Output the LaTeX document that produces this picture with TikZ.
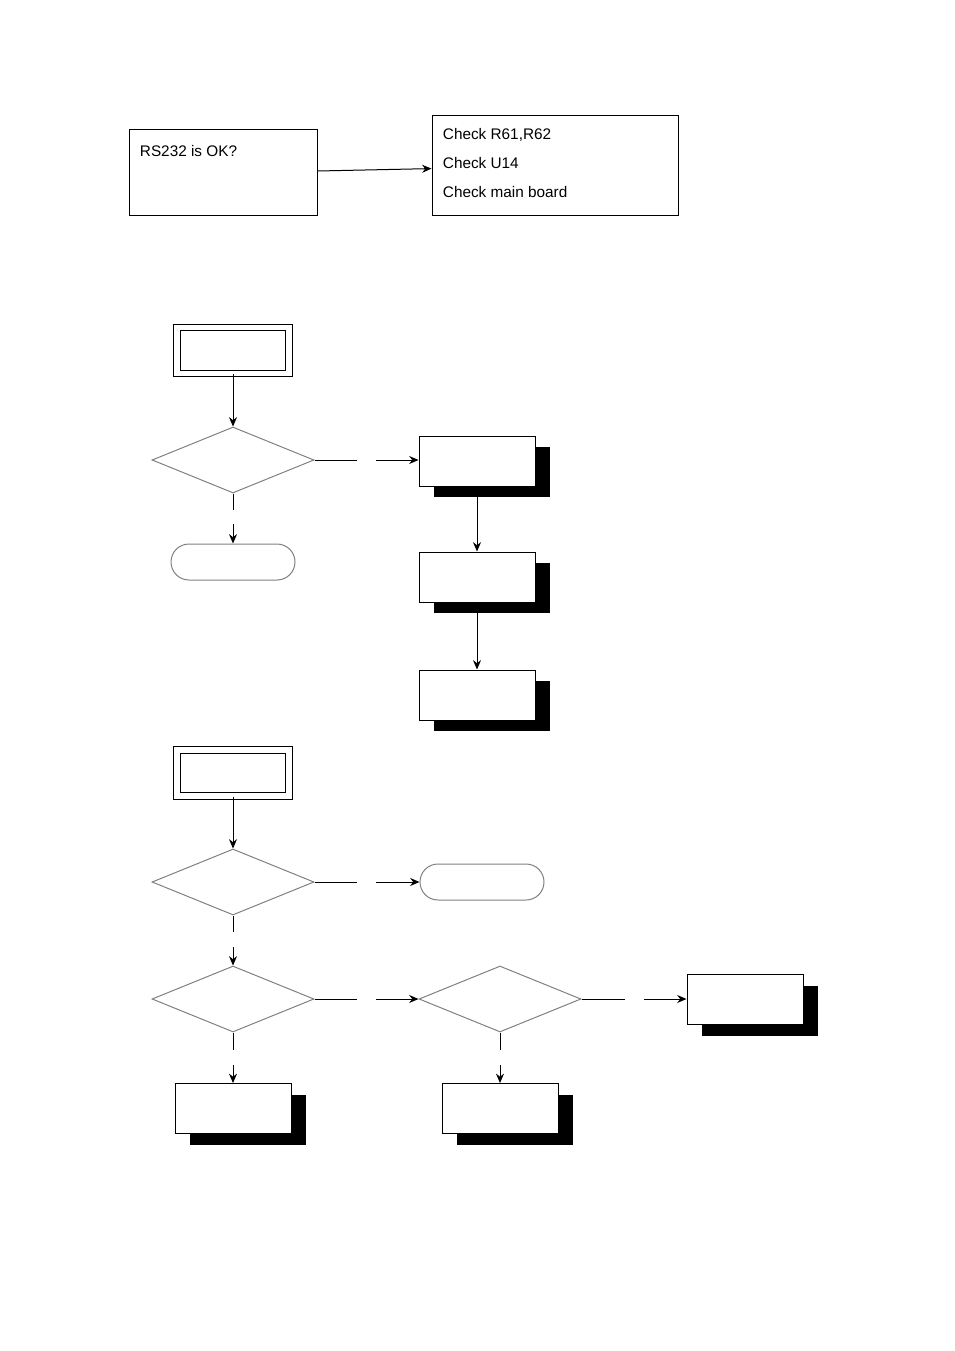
\documentclass[tikz,border=0pt]{standalone}
\usepackage{fontspec}
\setmainfont{Liberation Sans}
\usetikzlibrary{arrows.meta,shapes.geometric,shadows}

\begin{document}
\begin{tikzpicture}[x=0.75pt,y=-0.75pt,>={Stealth[length=7pt,width=6pt]},
                    line width=0.75pt,font=\fontsize{11.5pt}{14pt}\selectfont]
  \tikzset{
    box/.style={draw,fill=white,minimum width=87pt,minimum height=37.5pt,
                drop shadow={shadow xshift=11pt,shadow yshift=-8.5pt,opacity=1,fill=black}},
    startbox/.style={draw,double,double distance=4pt,minimum width=84pt,minimum height=34.5pt},
    decision/.style={draw=gray,diamond,aspect=2.45,minimum width=121.5pt,minimum height=49.5pt,inner sep=0pt},
    term/.style={draw=gray,rounded corners=13.5pt,minimum width=93pt,minimum height=27pt},
    plain/.style={draw,minimum width=141pt,minimum height=64.5pt}
  }
  \useasboundingbox (0,0) rectangle (954,1351);

  % top part
  \node[plain]   (rs)   at (223,173) {};
  \node[anchor=north west] (rstext) at (135,140) {RS232 is OK?};
  \node[draw,minimum width=184.5pt,minimum height=75pt] (chk) at (555,166) {};
  \node[anchor=north west,align=left,font=\fontsize{11.5pt}{21.75pt}\selectfont]
       (chktext) at (438,123) {Check R61,R62\\Check U14\\Check main board};
  \draw[->] (rs) -- (chk);

  % first flow
  \node[startbox] (st1) at (233,350.5) {};
  \node[decision] (d1)  at (233,460) {};
  \node[term]     (t1)  at (233,562) {};
  \node[box]      (b1)  at (477,461) {};
  \node[box]      (b2)  at (477,577) {};
  \node[box]      (b3)  at (477,695) {};
  \coordinate (d1s) at (233,510);  \coordinate (d1s') at (233,524);
  \coordinate (d1e) at (357,460);  \coordinate (d1e') at (376,460);

  \draw[->] (st1) -- (d1);
  \draw (d1.south) -- (d1s);  \draw[->] (d1s') -- (t1);
  \draw (d1.east) -- (d1e);   \draw[->] (d1e') -- (b1.west |- d1e');
  \draw[->] (b1) -- (b2);
  \draw[->] (b2) -- (b3);

  % second flow
  \node[startbox] (st2) at (233,773) {};
  \node[decision] (d2)  at (233,882) {};
  \node[term]     (t2)  at (482,882) {};
  \node[decision] (d3)  at (233,999) {};
  \node[decision] (d4)  at (500,999) {};
  \node[box]      (b4)  at (745,999.5) {};
  \node[box]      (b5)  at (233,1108.5) {};
  \node[box]      (b6)  at (500,1108.5) {};
  \coordinate (d2s) at (233,932);  \coordinate (d2s') at (233,947);
  \coordinate (d2e) at (357,882);  \coordinate (d2e') at (376,882);
  \coordinate (d3e) at (357,999);  \coordinate (d3e') at (376,999);
  \coordinate (d4e) at (625,999);  \coordinate (d4e') at (644,999);
  \coordinate (d3s) at (233,1050); \coordinate (d3s') at (233,1065);
  \coordinate (d4s) at (500,1050); \coordinate (d4s') at (500,1065);

  \draw[->] (st2) -- (d2);
  \draw (d2.south) -- (d2s);  \draw[->] (d2s') -- (d3);
  \draw (d2.east) -- (d2e);   \draw[->] (d2e') -- (t2);
  \draw (d3.east) -- (d3e);   \draw[->] (d3e') -- (d4);
  \draw (d4.east) -- (d4e);   \draw[->] (d4e') -- (b4.west |- d4e');
  \draw (d3.south) -- (d3s);  \draw[->] (d3s') -- (b5);
  \draw (d4.south) -- (d4s);  \draw[->] (d4s') -- (b6);
\end{tikzpicture}
\end{document}
